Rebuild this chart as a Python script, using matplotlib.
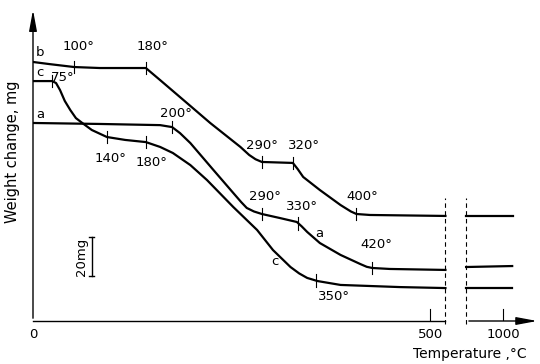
import numpy as np
import matplotlib
matplotlib.use("Agg")
import matplotlib.pyplot as plt

# curve b (x in chart units: 0..500 linear to the 500 tick, y in mg)
b_x = [0, 21, 52, 84, 142, 160, 201, 223, 261, 272, 280, 288, 327, 333, 340, 361, 387, 400, 407, 424, 519]
b_y = [132.9, 131.8, 130.3, 129.8, 129.8, 123.6, 109.3, 101.6, 89.3, 85.2, 83.0, 81.6, 81.1, 78.0, 73.9, 67.2, 59.5, 56.2, 54.9, 54.4, 53.9]
b_x2 = [545, 604]
b_y2 = [53.9, 53.9]

# curve a
a_x = [0, 84, 160, 175, 185, 198, 227, 252, 262, 269, 278, 288, 311, 332, 338, 345, 361, 387, 412, 420, 427, 449, 519]
a_y = [101.6, 101.1, 100.5, 99.5, 96.4, 91.3, 77.5, 65.7, 61.0, 58.0, 56.2, 54.9, 52.8, 50.8, 48.6, 45.7, 40.0, 33.9, 29.2, 27.8, 27.2, 26.7, 26.2]
a_x2 = [545, 603]
a_y2 = [27.7, 28.2]

# curve c
c_x = [0, 24, 29, 34, 40, 47, 54, 62, 74, 93, 116, 142, 160, 176, 198, 219, 252, 282, 302, 324, 335, 345, 358, 387, 462, 519]
c_y = [123.1, 123.1, 122.1, 118.5, 112.9, 108.2, 104.1, 101.6, 98.0, 94.4, 92.9, 91.8, 89.3, 86.2, 80.0, 72.3, 58.5, 46.7, 36.4, 27.7, 24.4, 22.1, 20.5, 18.5, 17.4, 16.9]
c_x2 = [545, 603]
c_y2 = [16.9, 16.9]

# marked temperatures: tick position, label, label position
b_marks = [52, 142, 288, 327, 407]
b_labels = ["100°", "180°", "290°", "320°", "400°"]
b_lab_xy = [(57, 140.6), (150, 140.6), (288, 89.8), (341, 89.8), (414, 64.1)]

a_marks = [175, 288, 334, 427]
a_labels = ["200°", "290°", "330°", "420°"]
a_lab_xy = [(180, 106.7), (292, 64.1), (339, 59.0), (432, 39.0)]

c_marks = [24, 93, 142, 356]
c_labels = ["75°", "140°", "180°", "350°"]
c_lab_xy = [(37, 124.7), (97, 83.6), (149, 81.1), (379, 12.8)]

x_ticks = [500, 592]
x_tick_labels = ["500", "1000"]

fig = plt.figure(figsize=(5.4, 3.64), dpi=100)
ax = fig.add_axes([33/540, 43/364, 507/540, 321/364])
ax.set_xlim(0, 638)
ax.set_ylim(0, 164.7)
ax.axis("off")

fs = 9.5
lw = 1.6
for xs, ys, xs2, ys2 in [(b_x, b_y, b_x2, b_y2), (a_x, a_y, a_x2, a_y2), (c_x, c_y, c_x2, c_y2)]:
    ax.plot(xs, ys, color="k", lw=lw)
    ax.plot(xs2, ys2, color="k", lw=lw)

# temperature ticks on the curves
for xs, ys, marks, labels, labxy in [(b_x, b_y, b_marks, b_labels, b_lab_xy),
                                     (a_x, a_y, a_marks, a_labels, a_lab_xy),
                                     (c_x, c_y, c_marks, c_labels, c_lab_xy)]:
    for m, lab, (lx, ly) in zip(marks, labels, labxy):
        yv = np.interp(m, xs, ys)
        ax.plot([m, m], [yv - 3.2, yv + 3.2], color="k", lw=0.8)
        ax.text(lx, ly, lab, ha="center", va="center", fontsize=fs)

# curve letters
ax.text(9, 138, "b", ha="center", va="center", fontsize=fs)
ax.text(9, 127.7, "c", ha="center", va="center", fontsize=fs)
ax.text(9, 105.7, "a", ha="center", va="center", fontsize=fs)
ax.text(360, 45.1, "a", ha="center", va="center", fontsize=fs)
ax.text(305, 30.3, "c", ha="center", va="center", fontsize=fs)

# axes drawn by hand
arrow = dict(arrowstyle="-|>,head_length=0.7,head_width=0.13", color="k", lw=1.0, mutation_scale=18)
ax.plot([0, 519], [0, 0], color="k", lw=1.0, clip_on=False)
ax.annotate("", xy=(638, 0), xytext=(545, 0), arrowprops=arrow, annotation_clip=False)
ax.annotate("", xy=(0, 161), xytext=(0, 0), arrowprops=arrow, annotation_clip=False)
for xt, lab in zip(x_ticks, x_tick_labels):
    ax.plot([xt, xt], [0, 6], color="k", lw=0.8)
    ax.text(xt, -7, lab, ha="center", va="center", fontsize=fs, clip_on=False)
ax.text(0, -7, "0", ha="center", va="center", fontsize=fs, clip_on=False)

# axis break
for xb in [519, 545]:
    ax.plot([xb, xb], [-1.5, 63], color="k", lw=0.8, ls=(0, (4, 3)), clip_on=False)

# 20 mg scale bar
ax.plot([74, 74], [23.1, 43.1], color="k", lw=1.0)
ax.plot([71, 77], [23.1, 23.1], color="k", lw=1.0)
ax.plot([71, 77], [43.1, 43.1], color="k", lw=1.0)
ax.text(61, 33.1, "20mg", rotation=90, ha="center", va="center", fontsize=fs)

ax.text(-26, 87, "Weight change, mg", rotation=90, ha="center", va="center", fontsize=10.5)
ax.text(550, -17, "Temperature ,°C", ha="center", va="center", fontsize=10)

plt.savefig("out.png", dpi=100)
